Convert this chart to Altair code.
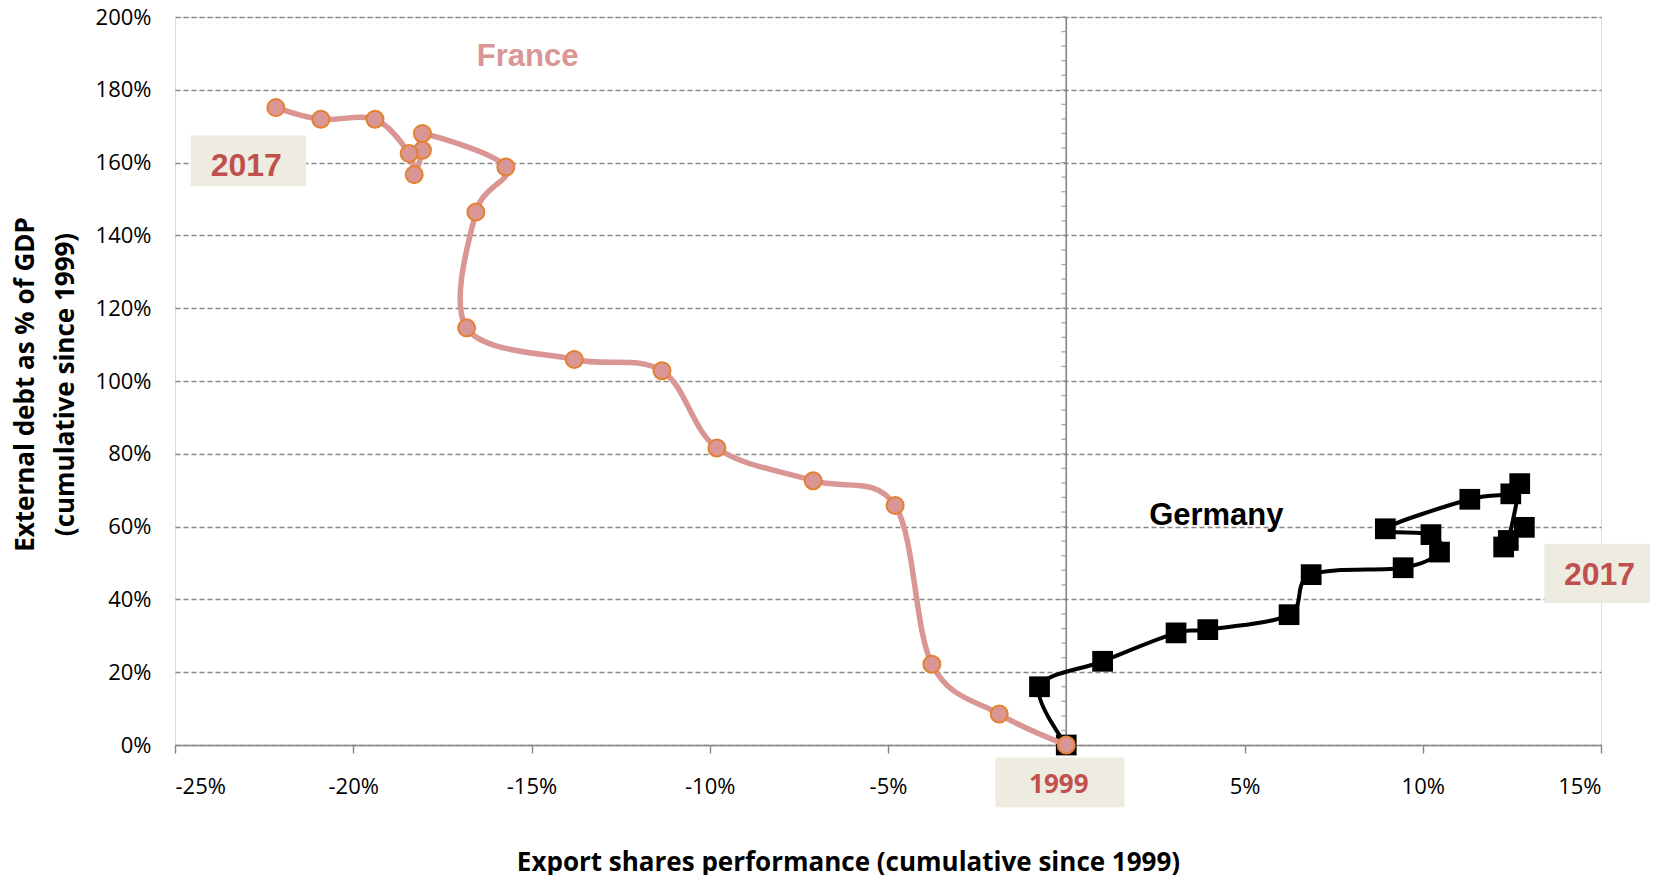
import altair as alt
import pandas as pd

# ---- data ----
fr_x = [0.0, -1.88, -3.77, -4.80, -7.10, -9.80, -11.34, -13.80, -16.82, -16.56,
        -15.72, -18.06, -18.06, -18.29, -18.43, -19.39, -20.91, -22.17]
fr_y = [0.0, 8.5, 22.2, 65.8, 72.6, 81.6, 102.8, 105.9, 114.6, 146.4,
        158.8, 168.0, 163.4, 156.7, 162.5, 171.9, 171.9, 175.1]
de_x = [0.0, -0.75, 1.02, 3.08, 3.97, 6.25, 6.87, 9.45, 10.47, 10.23,
        8.95, 11.32, 12.47, 12.72, 12.40, 12.27, 12.85]
de_y = [0.0, 16.0, 23.0, 30.8, 31.7, 35.8, 46.8, 48.7, 53.0, 57.8,
        59.4, 67.5, 69.0, 71.8, 56.2, 54.4, 59.8]

x_ticks = [-25, -20, -15, -10, -5, 0, 5, 10, 15]
y_ticks = [0, 20, 40, 60, 80, 100, 120, 140, 160, 180, 200]
y_minor = list(range(0, 201, 4))

# year boxes (data coordinates) and series labels
box_text = ["2017", "2017", "1999"]
box_cx = [-23.0, 14.96, -0.21]
box_cy = [159.1, 46.7, -11.1]
box_x1 = [-24.56, 13.41, -1.99]
box_x2 = [-21.32, 16.58, 1.63]
box_y1 = [153.5, 39.0, -3.4]
box_y2 = [167.5, 55.3, -17.1]

name_text = ["France", "Germany"]
name_x = [-15.11, 4.21]
name_y = [188.9, 63.0]

fr = pd.DataFrame({"x": fr_x, "y": fr_y, "i": range(len(fr_x))})
de = pd.DataFrame({"x": de_x, "y": de_y, "i": range(len(de_x))})
boxes = pd.DataFrame({"t": box_text, "cx": box_cx, "cy": box_cy,
                      "x1": box_x1, "x2": box_x2, "y1": box_y1, "y2": box_y2})
names = pd.DataFrame({"t": name_text, "x": name_x, "y": name_y})
minor = pd.DataFrame({"y": y_minor, "x": [0] * len(y_minor)})

W, H = 1426, 728
PINK = "#D99694"
ORANGE = "#E4812F"
RED = "#C0504D"
BEIGE = "#EEECE1"
GREY = "#868686"
LABEL_FONT = "Open Sans"

xscale = alt.Scale(domain=[-25, 15], nice=False, zero=False)
yscale = alt.Scale(domain=[0, 200], nice=False, zero=False)

x_axis = alt.Axis(values=x_ticks,
                  labelExpr="datum.value == 0 ? '' : datum.value + '%'", grid=False,
                  domainColor=GREY, domainWidth=1.6, tickColor=GREY, tickWidth=1.4,
                  tickSize=8, labelPadding=23, labelFont=LABEL_FONT, labelFontSize=22,
                  labelColor="black",
                  title="Export shares performance (cumulative since 1999)",
                  titleFont=LABEL_FONT, titleFontSize=26, titleFontWeight="bold",
                  titleColor="black", titleX=673, titleY=125, titleAlign="center",
                  titleBaseline="alphabetic")

y_axis = alt.Axis(orient="left", values=y_ticks, labelExpr="datum.value + '%'", grid=True,
                  gridColor=GREY, gridDash=[5, 3], gridWidth=1.4, domain=False,
                  ticks=False, tickSize=0, labelPadding=24, labelFont=LABEL_FONT,
                  labelFontSize=22, labelColor="black",
                  title=["External debt as % of GDP", "(cumulative since 1999)"],
                  titleFont=LABEL_FONT, titleFontSize=26, titleFontWeight="bold",
                  titleColor="black", titleAngle=270, titleX=-142, titleY=367,
                  titleAlign="center", titleBaseline="alphabetic",
                  titleLineHeight=40)


def X(f):
    return alt.X(f, scale=xscale, axis=x_axis)


def Y(f):
    return alt.Y(f, scale=yscale, axis=y_axis)


zero_rule = alt.Chart(minor).mark_rule(color=GREY, strokeWidth=1.6).encode(
    x=alt.X("min(x):Q", scale=xscale, axis=x_axis),
    y=alt.Y("min(y):Q", scale=yscale, axis=y_axis), y2="max(y):Q")
zero_ticks = alt.Chart(minor).mark_tick(color=GREY, orient="horizontal", size=5,
                                        thickness=1.3, xOffset=-2.5).encode(
    x=X("x:Q"), y=Y("y:Q"))

de_line = alt.Chart(de).mark_line(color="black", strokeWidth=4, interpolate="cardinal").encode(
    x=X("x:Q"), y=Y("y:Q"), order="i:Q")
de_pts = alt.Chart(de).mark_point(shape="square", filled=True, color="black", size=430, opacity=1).encode(
    x=X("x:Q"), y=Y("y:Q"))
fr_line = alt.Chart(fr).mark_line(color=PINK, strokeWidth=5.5, interpolate="cardinal").encode(
    x=X("x:Q"), y=Y("y:Q"), order="i:Q")
fr_pts = alt.Chart(fr).mark_point(shape="circle", filled=True, fill=PINK, stroke=ORANGE,
                                  strokeWidth=2, size=290, opacity=1).encode(
    x=X("x:Q"), y=Y("y:Q"))

box_rect = alt.Chart(boxes).mark_rect(color=BEIGE).encode(
    x=X("x1:Q"), x2="x2:Q", y=Y("y1:Q"), y2="y2:Q")

box_txt_2017 = alt.Chart(boxes).transform_filter("datum.t == '2017'").mark_text(
    color=RED, fontWeight="bold", baseline="middle", align="center",
    font="Liberation Sans", fontSize=32).encode(x=X("cx:Q"), y=Y("cy:Q"), text="t:N")
box_txt_1999 = alt.Chart(boxes).transform_filter("datum.t == '1999'").mark_text(
    color=RED, fontWeight="bold", baseline="middle", align="center",
    font=LABEL_FONT, fontSize=26).encode(x=X("cx:Q"), y=Y("cy:Q"), text="t:N")

name_txt = alt.Chart(names).mark_text(fontWeight="bold", baseline="middle", align="center",
                                      font="Liberation Sans", fontSize=31).encode(
    x=X("x:Q"), y=Y("y:Q"), text="t:N",
    color=alt.Color("t:N", scale=alt.Scale(domain=name_text, range=[PINK, "black"]), legend=None))

chart = alt.layer(
    zero_rule, zero_ticks, de_line, de_pts, fr_line, fr_pts,
    box_rect, box_txt_2017, box_txt_1999, name_txt
).properties(
    width=W, height=H,
    autosize=alt.AutoSizeParams(type="none"),
    padding={"left": 167, "top": 9, "right": 49, "bottom": 130},
).configure_view(stroke=None).configure(background="white")

chart.save("out.html", embed_options={"renderer": "svg", "actions": False})
